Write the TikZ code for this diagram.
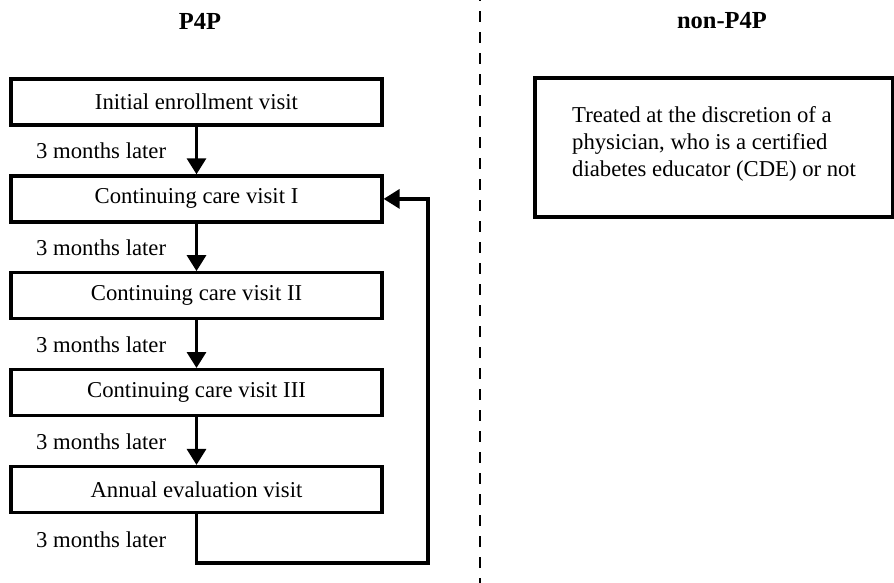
\documentclass[tikz,border=0pt]{standalone}
\usepackage{fontspec}
\setmainfont{Liberation Serif}
\usetikzlibrary{arrows.meta}
\begin{document}
\begin{tikzpicture}[x=1pt,y=-1pt,
  visit/.style={draw,line width=3.2pt,minimum width=371pt,minimum height=46pt,inner sep=0pt,font=\fontsize{22.7}{27}\selectfont},
  gaplabel/.style={anchor=west,inner sep=0pt,font=\fontsize{22.7}{27}\selectfont},
  heading/.style={font=\fontsize{24.5}{29}\selectfont\bfseries},
  flow/.style={line width=3.2pt,-{Triangle[width=19pt,length=16pt]}},
  divider/.style={line width=2pt,dash pattern=on 11pt off 10pt}]
\useasboundingbox (0,0) rectangle (894,582);

% column headings
\node[heading] (p4p) at (200,21) {P4P};
\node[heading] (nonp4p) at (722,21) {non-P4P};

% dashed divider between the two arms
\coordinate (dtop) at (480,-10);
\coordinate (dbot) at (480,590);
\draw[divider] (dtop) -- (dbot);

% P4P visit sequence
\node[visit] (v1) at (196.5,102)   {Initial enrollment visit};
\node[visit] (v2) at (196.5,198.9) {Continuing care visit I};
\node[visit] (v3) at (196.5,295.7) {Continuing care visit II};
\node[visit] (v4) at (196.5,392.6) {Continuing care visit III};
\node[visit] (v5) at (196.5,489.5) {Annual evaluation visit};

\draw[flow] (v1) -- (v2);
\draw[flow] (v2) -- (v3);
\draw[flow] (v3) -- (v4);
\draw[flow] (v4) -- (v5);

\node[gaplabel] (l1) at (36,151) {3 months later};
\node[gaplabel] (l2) at (36,248) {3 months later};
\node[gaplabel] (l3) at (36,345) {3 months later};
\node[gaplabel] (l4) at (36,442) {3 months later};
\node[gaplabel] (l5) at (36,540) {3 months later};

% yearly loop back to the first continuing care visit
\coordinate (lb) at (196.5,563);
\coordinate (lr) at (428,563);
\draw[flow] (v5.south) -- (lb) -- (lr) |- (v2.east);

% non-P4P arm
\node[draw,line width=3.2pt,minimum width=358pt,minimum height=139pt] (np) at (714,147.5) {};
\node[align=left,inner sep=0pt,font=\fontsize{22.7}{27}\selectfont] (nptext) at (714,144)
  {Treated at the discretion of a\\physician, who is a certified\\diabetes educator (CDE) or not};
\end{tikzpicture}
\end{document}
